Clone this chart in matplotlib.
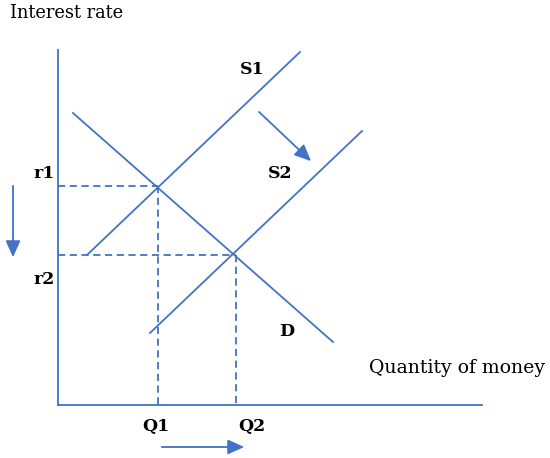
import matplotlib
matplotlib.use("Agg")
import matplotlib.pyplot as plt

# diagram geometry in picture pixels (x right, y down)
demand = [(73, 113), (333, 342)]
supply1 = [(87, 255), (300, 52)]
supply2 = [(150, 333), (362, 131)]
axis_x = [(58, 405), (482, 405)]
axis_y = [(58, 50), (58, 405)]

q_points = [158, 236]      # Q1, Q2
r_levels = [186, 255]      # r1, r2
q_labels = ["Q1", "Q2"]
r_labels = ["r1", "r2"]

blue = "#4472C4"
serif = ["DejaVu Serif"]

fig = plt.figure(figsize=(5.5, 4.58), dpi=100)
ax = fig.add_axes([0, 0, 1, 1])
ax.set_xlim(0, 550)
ax.set_ylim(458, 0)
ax.axis("off")

# axes and curves
for seg in [axis_x, axis_y, demand, supply1, supply2]:
    xs, ys = zip(*seg)
    ax.plot(xs, ys, color=blue, lw=1.3)

# dashed guide lines at the equilibria
for q, r in zip(q_points, r_levels):
    ax.plot([axis_y[0][0], q], [r, r], color=blue, lw=1.3, ls=(0, (4, 2.5)))
    ax.plot([q, q], [r, axis_x[0][1]], color=blue, lw=1.3, ls=(0, (4, 2.5)))

# shift arrows
arrow = dict(arrowstyle="-|>,head_length=1.0,head_width=0.45", color=blue, lw=1.3)
ax.annotate("", xy=(313, 163), xytext=(257, 110), arrowprops=arrow)
ax.annotate("", xy=(13, 260), xytext=(13, 183), arrowprops=arrow)
ax.annotate("", xy=(247, 447), xytext=(159, 447), arrowprops=arrow)

# labels
ax.text(10, 13, "Interest rate", fontsize=12.8, family=serif, va="center", ha="left")
ax.text(545, 368, "Quantity of money", fontsize=13.6, family=serif, va="center", ha="right")
bold = dict(fontsize=12.5, family=serif, fontweight="bold", va="center", ha="center")
ax.text(252, 69, "S1", **bold)
ax.text(280, 174, "S2", **bold)
ax.text(287, 331, "D", **bold)
for lab, r in zip(r_labels, [174, 279]):
    ax.text(44, r, lab, **bold)
for lab, q in zip(q_labels, [156, 252]):
    ax.text(q, 427, lab, **bold)

fig.savefig("out.png", dpi=100)
